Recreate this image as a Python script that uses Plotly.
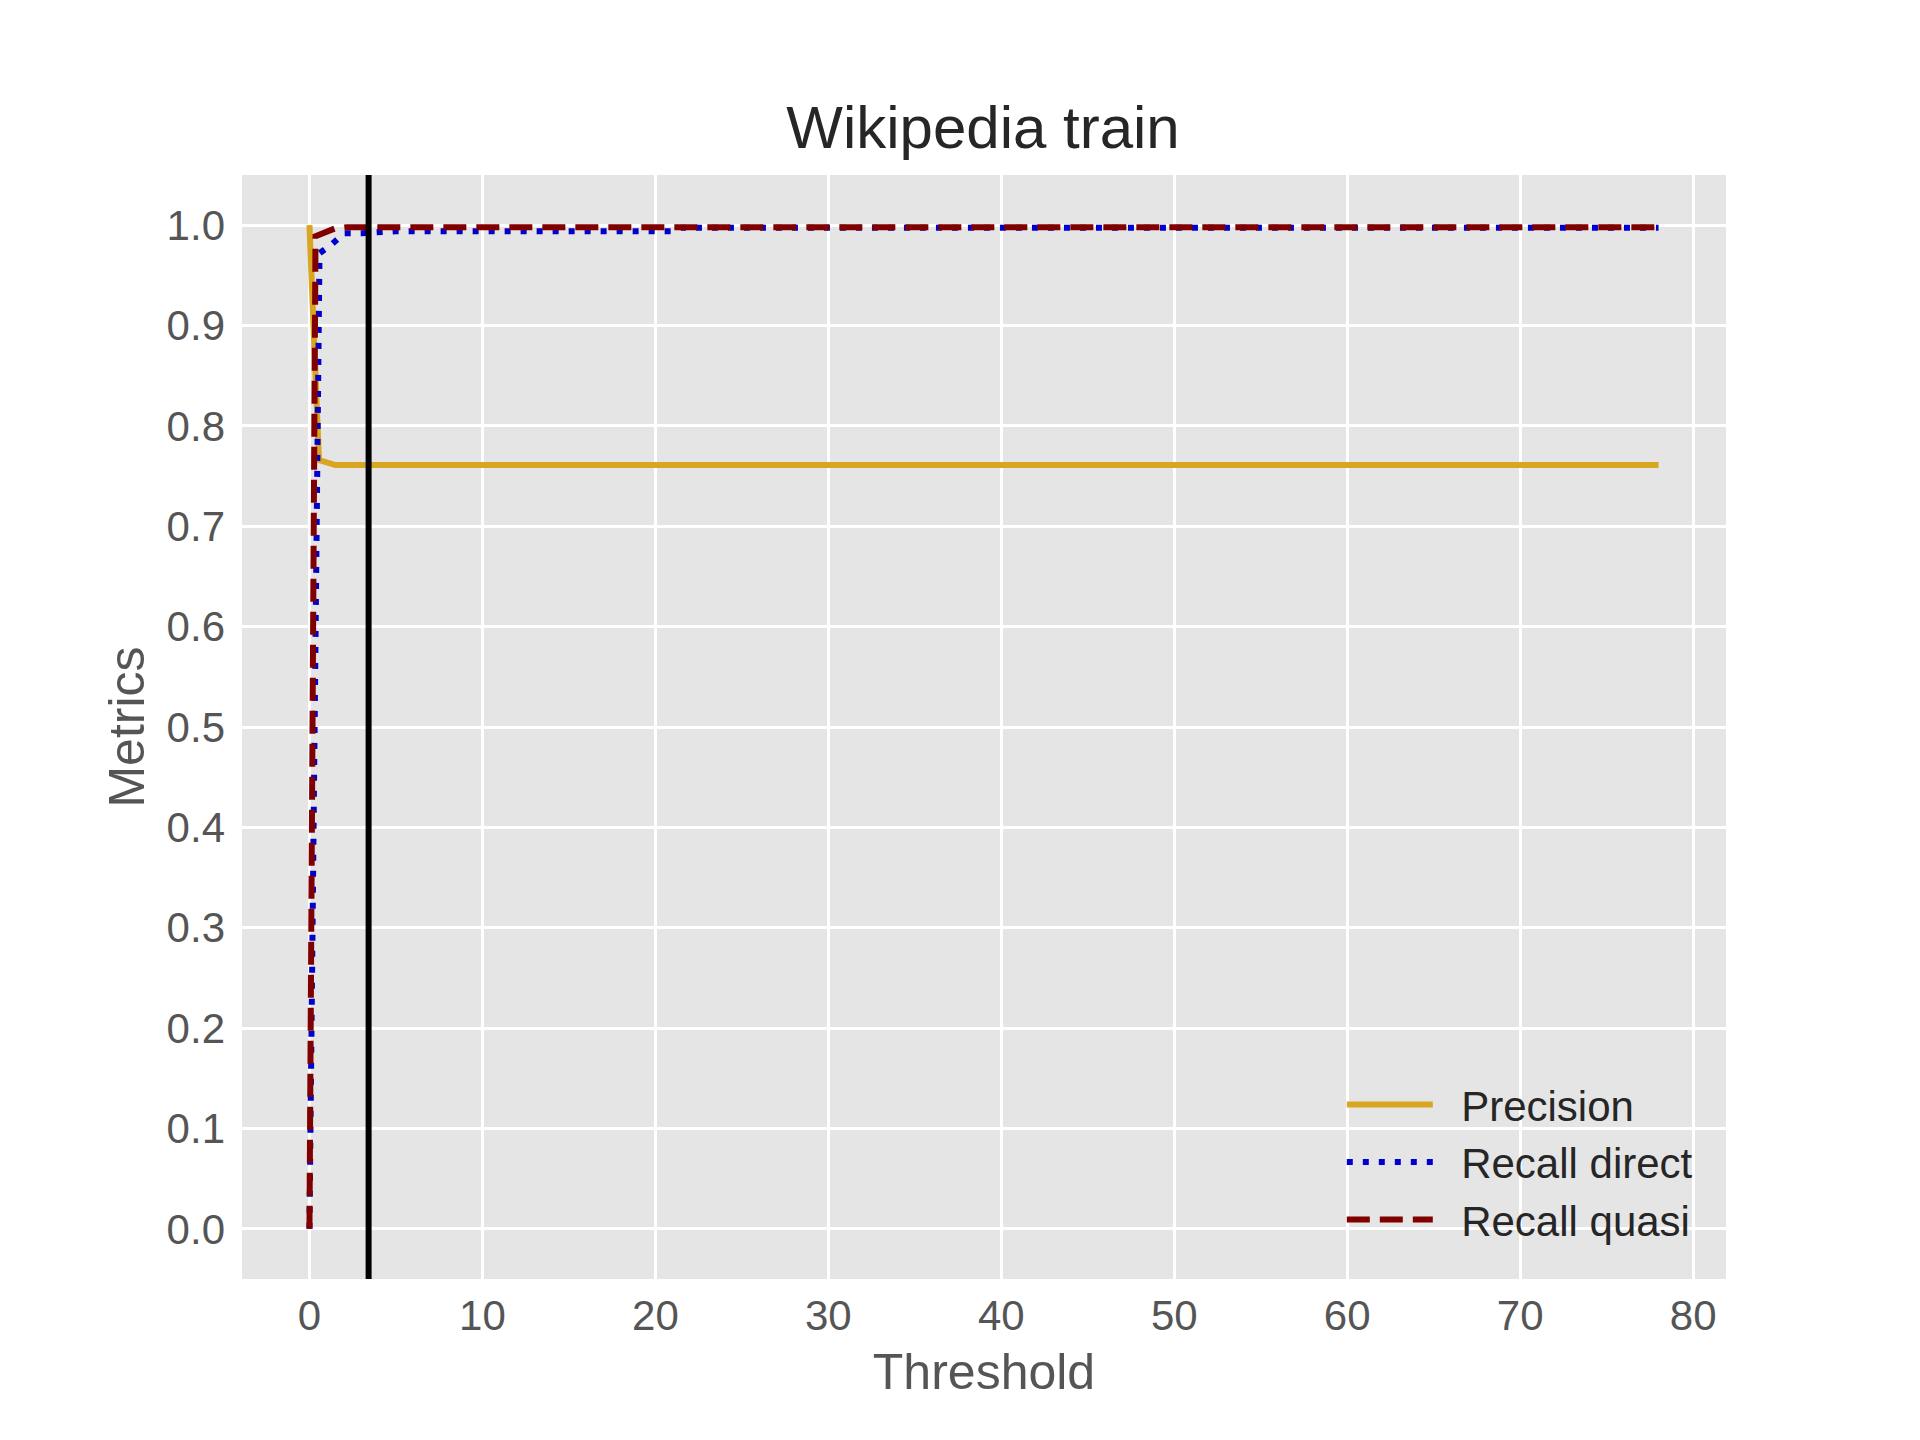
import plotly.graph_objects as go

# threshold sweep, values
precision_x = [0, 0.55, 1.5, 10, 20, 30, 40, 50, 60, 70, 78]
precision_y = [1.0, 0.766, 0.761, 0.761, 0.761, 0.761, 0.761, 0.761, 0.761, 0.761, 0.761]

direct_x = [0, 0.58, 1.3, 2.0, 3.0, 5, 10, 15, 21, 21.5, 30, 40, 50, 60, 70, 78]
direct_y = [0.0, 0.972, 0.981, 0.992, 0.992, 0.994, 0.994, 0.994, 0.994, 0.9975,
            0.9975, 0.9975, 0.9975, 0.9975, 0.9975, 0.9975]

quasi_x = [0, 0.35, 1.45, 2.2, 5, 10, 20, 30, 40, 50, 60, 70, 78]
quasi_y = [0.0, 0.989, 0.9966, 0.998, 0.998, 0.998, 0.998, 0.998, 0.998, 0.998,
           0.998, 0.998, 0.998]

chosen_threshold = 3.42

x_ticks = [0, 10, 20, 30, 40, 50, 60, 70, 80]
y_ticks = [0.0, 0.1, 0.2, 0.3, 0.4, 0.5, 0.6, 0.7, 0.8, 0.9, 1.0]

FONT = "Liberation Sans, Arial, sans-serif"
GAP = "\u00a0\u00a0"  # room between legend line and its label

fig = go.Figure()
fig.add_trace(go.Scatter(
    x=precision_x, y=precision_y, mode="lines", name=GAP + "Precision",
    line=dict(color="#DAA520", width=6),
))
fig.add_trace(go.Scatter(
    x=direct_x, y=direct_y, mode="lines", name=GAP + "Recall direct",
    line=dict(color="#0000CD", width=6, dash="6px,10px"),
))
fig.add_trace(go.Scatter(
    x=quasi_x, y=quasi_y, mode="lines", name=GAP + "Recall quasi",
    line=dict(color="#800000", width=6, dash="23px,10px"),
))

fig.add_vline(x=chosen_threshold, line=dict(color="black", width=6))

fig.update_layout(
    width=1920,
    height=1440,
    paper_bgcolor="white",
    plot_bgcolor="#E5E5E5",
    margin=dict(l=234, r=202, t=167, b=169),
    font=dict(family=FONT, color="#262626"),
    title=dict(
        text="Wikipedia train",
        x=975 / 1920, xanchor="center",
        y=1 - 119 / 1440, yanchor="middle",
        font=dict(size=60, color="#262626"),
    ),
    xaxis=dict(
        range=[-3.9, 81.9],
        tickvals=x_ticks,
        ticks="",
        showline=False,
        zeroline=False,
        gridcolor="white",
        gridwidth=3,
        tickfont=dict(size=42, color="#555555"),
        ticklabelstandoff=8,
        title=dict(text="Threshold", font=dict(size=50, color="#555555"), standoff=15),
    ),
    yaxis=dict(
        range=[-0.05, 1.05],
        tickvals=y_ticks,
        tickformat=".1f",
        ticks="",
        showline=False,
        zeroline=False,
        gridcolor="white",
        gridwidth=3,
        tickfont=dict(size=42, color="#555555"),
        ticklabelstandoff=16,
        title=dict(text="Metrics", font=dict(size=50, color="#555555"), standoff=6),
    ),
    legend=dict(
        x=0.981, y=0.023,
        xanchor="right", yanchor="bottom",
        bgcolor="rgba(0,0,0,0)",
        font=dict(size=42, color="#262626"),
        itemwidth=86,
        tracegroupgap=0,
    ),
    showlegend=True,
)

fig.write_html("out.html")
